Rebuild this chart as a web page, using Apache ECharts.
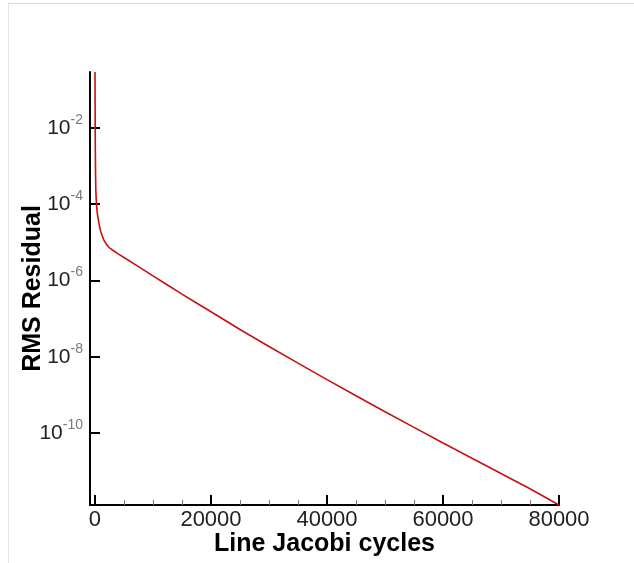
<!DOCTYPE html>
<html>
<head>
<meta charset="utf-8">
<title>RMS Residual vs Line Jacobi cycles</title>
<script src="https://cdn.jsdelivr.net/npm/echarts@6/dist/echarts.min.js"></script>
<style>
  html, body { margin: 0; padding: 0; background: #ffffff; }
  #chart { width: 634px; height: 563px; }
</style>
</head>
<body>
<div id="chart"></div>
<script>
// Convergence history: iteration count and RMS residual
const cycles = [0, 20, 40, 60, 100, 150, 250, 400, 700, 1000, 1500, 2000, 2500, 3000, 4000, 5000, 7500,
  10000, 12500, 15000, 17500, 20000, 25000, 30000, 35000, 40000, 45000, 50000, 55000, 60000, 65000, 70000, 75000, 80000];
const residuals = [0.292, 0.05, 0.01, 2.5e-3, 6e-4, 2.2e-4, 1.0e-4, 5.75e-5, 3.0e-5, 1.9e-5, 1.17e-5, 8.7e-6, 7.2e-6, 6.3e-6, 5.0e-6, 4.0e-6, 2.3e-6,
  1.32e-6, 7.6e-7, 4.4e-7, 2.57e-7, 1.51e-7, 5.2e-8, 1.86e-8, 6.8e-9, 2.51e-9, 9.5e-10, 3.63e-10, 1.41e-10, 5.5e-11, 2.19e-11, 8.7e-12, 3.47e-12, 1.30e-12];

// Axis ticks
const xMajorTicks = [0, 20000, 40000, 60000, 80000];
const xMinorTicks = [5000, 10000, 15000, 25000, 30000, 35000, 45000, 50000, 55000, 65000, 70000, 75000];
const yMajorTicks = [1e-10, 1e-8, 1e-6, 1e-4, 1e-2];

const xRange = [-860, 80000];
const yRange = [1.30e-12, 0.292];

const FONT = '"Liberation Sans", Arial, Helvetica, sans-serif';

const chart = echarts.init(document.getElementById('chart'), null, { renderer: 'canvas' });

const seriesData = cycles.map((c, i) => [c, residuals[i]]);

chart.setOption({
  backgroundColor: '#ffffff',
  animation: false,
  grid: { left: 90, right: 75, top: 72, bottom: 58, containLabel: false, outerBoundsMode: 'none' },
  graphic: [
    { type: 'line', shape: { x1: 8, y1: 3.5, x2: 634, y2: 3.5 }, style: { stroke: '#d9d9d9', lineWidth: 1 }, silent: true },
    { type: 'line', shape: { x1: 8.5, y1: 3.5, x2: 8.5, y2: 563 }, style: { stroke: '#e2e2e2', lineWidth: 1 }, silent: true }
  ],
  xAxis: [
    {
      type: 'value',
      position: 'bottom',
      min: xRange[0],
      max: xRange[1],
      axisLine: { show: true, onZero: false, lineStyle: { color: '#000', width: 2 } },
      axisTick: { show: true, inside: true, length: 10, customValues: xMajorTicks, lineStyle: { color: '#000', width: 2 } },
      axisLabel: {
        show: true, customValues: xMajorTicks, margin: 4,
        fontFamily: FONT, fontSize: 22, color: '#222',
        formatter: v => String(v)
      },
      splitLine: { show: false },
      name: 'Line Jacobi cycles',
      nameLocation: 'middle',
      nameGap: 27,
      nameMoveOverlap: false,
      nameTextStyle: { fontFamily: FONT, fontSize: 25, fontWeight: 'bold', color: '#000' }
    },
    {
      type: 'value',
      position: 'bottom',
      min: xRange[0],
      max: xRange[1],
      axisLine: { show: false, onZero: false },
      axisTick: { show: true, inside: true, length: 5, customValues: xMinorTicks, lineStyle: { color: '#777', width: 1 } },
      axisLabel: { show: false },
      splitLine: { show: false }
    }
  ],
  yAxis: {
    type: 'log',
    logBase: 10,
    min: yRange[0],
    max: yRange[1],
    axisLine: { show: true, onZero: false, lineStyle: { color: '#000', width: 2 } },
    axisTick: { show: true, inside: true, length: 10, customValues: yMajorTicks, lineStyle: { color: '#000', width: 2 } },
    minorTick: { show: false },
    splitLine: { show: false },
    axisLabel: {
      show: true, customValues: yMajorTicks, margin: 7,
      formatter: v => '{b|10}{s|' + Math.round(Math.log10(v)) + '}',
      rich: {
        b: { fontFamily: FONT, fontSize: 21, lineHeight: 30, color: '#222' },
        s: { fontFamily: FONT, fontSize: 14, lineHeight: 14, color: '#777', verticalAlign: 'top' }
      }
    },
    name: 'RMS Residual',
    nameLocation: 'middle',
    nameRotate: 90,
    nameGap: 44,
    nameMoveOverlap: false,
    nameTextStyle: { fontFamily: FONT, fontSize: 25, fontWeight: 'bold', color: '#000' }
  },
  series: [{
    type: 'line',
    xAxisIndex: 0,
    data: seriesData,
    showSymbol: false,
    symbol: 'none',
    smooth: false,
    clip: true,
    lineStyle: { color: '#c41212', width: 1.6 }
  }]
});
</script>
</body>
</html>
